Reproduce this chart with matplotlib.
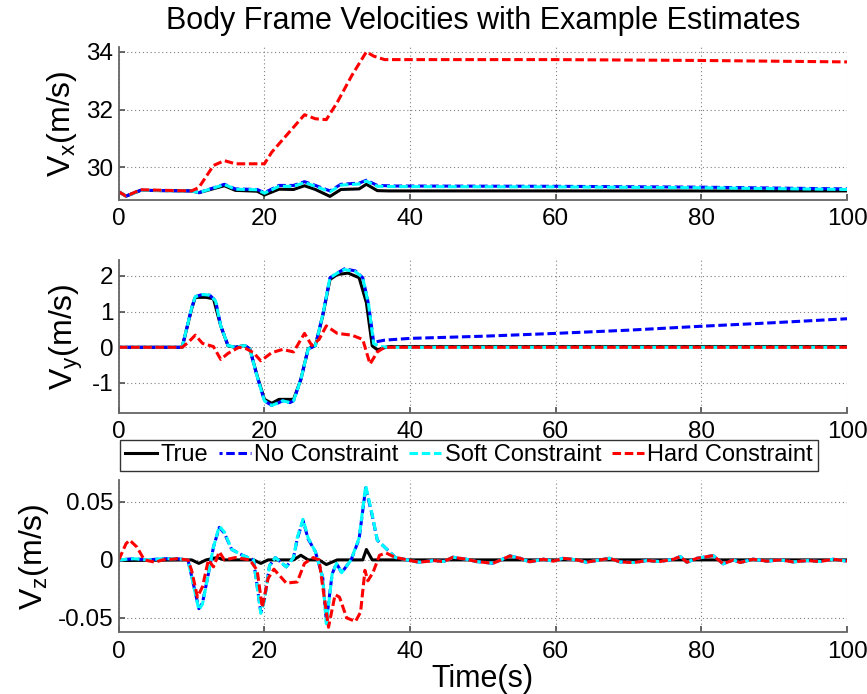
import matplotlib
matplotlib.use('Agg')
import matplotlib.pyplot as plt

plt.rcParams['font.family'] = ['Liberation Sans', 'DejaVu Sans']
plt.rcParams['mathtext.default'] = 'regular'

# ---- Vx ----
t_vx_true = [0, 1, 3, 10, 11, 14.5, 16, 19, 20, 22, 24, 25.5, 27, 29, 30.5, 33, 34, 35.5, 37, 100]
vx_true = [29.15, 29.0, 29.2, 29.18, 29.12, 29.36, 29.2, 29.17, 29.04, 29.24, 29.23, 29.36,
           29.23, 28.99, 29.23, 29.25, 29.41, 29.19, 29.18, 29.18]

t_vx_est = [0, 1, 3, 10, 11, 14.5, 16, 19, 20, 22, 24, 25.5, 27, 29, 30.5, 33, 34, 35.5, 38, 60, 80, 100]
vx_none = [29.15, 29.0, 29.2, 29.18, 29.12, 29.41, 29.25, 29.23, 29.12, 29.37, 29.37, 29.5,
           29.37, 29.18, 29.41, 29.45, 29.55, 29.37, 29.35, 29.34, 29.31, 29.25]
vx_soft = [29.15, 29.0, 29.2, 29.18, 29.12, 29.4, 29.24, 29.22, 29.1, 29.34, 29.34, 29.47,
           29.34, 29.15, 29.38, 29.42, 29.52, 29.34, 29.33, 29.32, 29.29, 29.23]

t_vx_hard = [0, 1, 3, 10, 11, 13, 14.5, 16, 20, 21, 23, 25.5, 27, 28.5, 30, 32, 34, 35, 36.5, 60, 80, 100]
vx_hard = [29.15, 29.0, 29.22, 29.18, 29.3, 30.06, 30.23, 30.12, 30.12, 30.52, 31.1, 31.82,
           31.68, 31.65, 32.25, 33.18, 34.0, 33.85, 33.73, 33.73, 33.7, 33.65]

# ---- Vy ----
t_vy_true = [0, 8.7, 10, 10.5, 12, 13, 14, 15, 16, 17.3, 18, 19, 20, 21, 22, 24, 25, 26, 27, 28,
             29, 30, 31.5, 33, 34, 34.8, 35.5, 37, 100]
vy_true = [0, 0, 1.07, 1.4, 1.4, 1.36, 0.6, 0.04, 0, 0.05, -0.05, -0.8, -1.46, -1.57, -1.46,
           -1.46, -0.9, -0.04, 0.05, 0.88, 1.9, 2.04, 2.08, 1.95, 1.25, 0.04, -0.07, 0.02, 0.02]

t_vy_soft = [0, 8.7, 10, 10.5, 11.5, 12.5, 13.3, 14, 15, 16, 17.3, 18, 19, 20, 21, 22, 22.5,
             23.5, 24, 25, 26, 27, 28, 29, 30, 31, 32.5, 33.5, 34.3, 35, 36, 37, 100]
vy_soft = [0, 0, 1.1, 1.42, 1.48, 1.46, 1.3, 0.6, 0.05, 0, 0.05, -0.05, -0.82, -1.5, -1.63,
           -1.55, -1.5, -1.55, -1.5, -0.9, -0.05, 0.05, 0.9, 1.95, 2.08, 2.18, 2.12, 1.95, 1.2,
           0.1, 0.02, 0, 0]

t_vy_none = [0, 8.7, 10, 10.5, 11.5, 12.5, 13.3, 14, 15, 16, 17.3, 18, 19, 20, 21, 22, 22.5,
             23.5, 24, 25, 26, 27, 28, 29, 30, 31, 32.5, 33.5, 34.3, 35, 36.5, 40, 50, 60, 70,
             80, 90, 100]
vy_none = [0, 0, 1.1, 1.42, 1.48, 1.46, 1.3, 0.6, 0.05, 0, 0.05, -0.05, -0.82, -1.5, -1.63,
           -1.55, -1.5, -1.55, -1.5, -0.9, -0.05, 0.05, 0.9, 1.95, 2.08, 2.2, 2.14, 1.95, 1.2,
           0.14, 0.2, 0.25, 0.31, 0.39, 0.48, 0.59, 0.69, 0.8]

t_vy_hard = [0, 8.7, 9.5, 10.5, 11.5, 13, 14, 15, 16.5, 17.5, 18.5, 19.5, 21, 22.5, 24, 25.5,
             26.5, 27.5, 28.5, 30, 32, 33.5, 34.5, 35.5, 36.5, 100]
vy_hard = [0, 0, 0.13, 0.34, 0.11, 0.02, -0.34, -0.17, 0, -0.04, -0.15, -0.38, -0.15, -0.06,
           -0.13, 0.39, 0.05, 0.22, 0.6, 0.39, 0.34, 0.22, -0.47, -0.13, 0, 0]

# ---- Vz ----
t_vz_true = [0, 1, 10, 11, 12, 13.5, 14.5, 18.5, 19.5, 20.5, 24, 25, 26, 27.5, 28.5, 30, 33.5,
             34, 34.8, 36, 100]
vz_true = [0, -0.0005, 0, -0.003, 0, 0.002, 0, 0, -0.003, 0, 0, 0.004, 0, 0, -0.004, 0, 0,
           0.009, 0, 0, 0]

# common small wiggle of the estimates after the manoeuvres
t_vz_tail = [38.6, 40, 41.3, 43.2, 44.6, 45.9, 47.7, 49.1, 51.4, 53.7, 55.1, 56.4, 58.3, 59.7,
             61, 62.9, 64.2, 66.1, 67.4, 68.8, 70.7, 72.5, 74.3, 76.2, 77.1, 78, 79.4, 81.6, 83,
             84.4, 85.3, 87.1, 89, 90.8, 92.6, 94.5, 96.3, 98.1, 100]
vz_tail = [0.0014, -0.0006, -0.002, -0.0006, -0.0014, 0.0023, 0.0006, -0.0014, -0.0029, 0.0034,
           0.0014, -0.0017, 0.0006, -0.0011, 0.0014, 0, -0.002, 0, 0.0014, -0.0017, -0.0023,
           -0.0006, -0.0014, 0.0006, 0.0029, -0.002, 0.0014, 0.0037, -0.0034, 0, -0.0023, 0.0006,
           -0.0011, 0, -0.0017, -0.0006, -0.0014, 0.0006, -0.0011]

t_vz_soft = [0, 2, 4, 6, 8, 9.5, 10.5, 11, 11.5, 12.3, 13, 13.8, 14.5, 15.5, 17, 18.5, 19.5, 20,
             20.7, 21.5, 23, 24, 24.5, 25.3, 26, 27, 28, 28.5, 29.3, 29.9, 30.6, 31.9, 33, 33.9,
             34.7, 35.5, 37, 38]
vz_soft = [0, 0.001, 0, 0.001, 0.001, 0, -0.029, -0.043, -0.038, -0.012, 0.011, 0.029, 0.024,
           0.009, 0.004, 0, -0.046, -0.035, -0.005, 0.002, -0.006, 0.002, 0.019, 0.035, 0.019,
           0.007, -0.015, -0.055, -0.012, -0.003, -0.011, 0, 0.019, 0.064, 0.042, 0.017, 0.008,
           0.002]
vz_none = [0, 0.001, 0, 0.001, 0.001, 0, -0.028, -0.042, -0.037, -0.012, 0.011, 0.028, 0.023,
           0.009, 0.004, 0, -0.045, -0.034, -0.005, 0.002, -0.006, 0.002, 0.018, 0.034, 0.018,
           0.007, -0.015, -0.053, -0.012, -0.003, -0.011, 0, 0.018, 0.062, 0.041, 0.017, 0.008,
           0.002]

t_vz_hard = [0, 1, 1.5, 2.5, 3.5, 5, 6, 8, 9.5, 10, 10.8, 11.5, 12.3, 13, 13.8, 14.5, 16, 18, 19,
             19.7, 20.5, 21.3, 23, 24.5, 25.5, 26.7, 27.5, 28, 28.8, 29.7, 30.3, 31.3, 32.5, 33.2,
             33.8, 34.2, 34.9, 35.8, 36.7, 38]
vz_hard = [0, 0.014, 0.017, 0.011, 0, -0.002, 0, 0.001, 0, -0.009, -0.032, -0.023, 0, -0.006,
           0.007, 0, 0.002, 0, -0.009, -0.041, -0.016, -0.008, -0.02, -0.019, -0.003, 0.002, 0,
           -0.023, -0.058, -0.03, -0.032, -0.05, -0.053, -0.045, -0.009, -0.018, -0.011, 0.004,
           0.006, 0.002]

labels = ['True', 'No Constraint', 'Soft Constraint', 'Hard Constraint']

fig = plt.figure(figsize=(8.67, 6.94), dpi=100)
rects = [[0.137, 0.712, 0.840, 0.220],
         [0.137, 0.405, 0.840, 0.220],
         [0.137, 0.089, 0.840, 0.219]]
axes = [fig.add_axes(r) for r in rects]

LW = 2.2
DASH = (2.8, 1.2)


def draw(ax, series):
    (tt, yt), (tn, yn), (ts, ys), (th, yh) = series
    ax.plot(tt, yt, color='black', lw=LW, label=labels[0])
    ax.plot(tn, yn, color='blue', lw=LW, ls=(1.8, DASH), label=labels[1])
    ax.plot(ts, ys, color='cyan', lw=LW, ls=(0, DASH), label=labels[2])
    ax.plot(th, yh, color='red', lw=LW, ls=(0, DASH), label=labels[3])


draw(axes[0], [(t_vx_true, vx_true), (t_vx_est, vx_none), (t_vx_est, vx_soft),
               (t_vx_hard, vx_hard)])
draw(axes[1], [(t_vy_true, vy_true), (t_vy_none, vy_none), (t_vy_soft, vy_soft),
               (t_vy_hard, vy_hard)])
draw(axes[2], [(t_vz_true, vz_true),
               (t_vz_soft + t_vz_tail, vz_none + vz_tail),
               (t_vz_soft + t_vz_tail, vz_soft + vz_tail),
               (t_vz_hard + t_vz_tail, vz_hard + vz_tail)])

ylims = [(28.87, 34.16), (-1.84, 2.44), (-0.0623, 0.0686)]
yticks = [[30, 32, 34], [-1, 0, 1, 2], [-0.05, 0, 0.05]]
yticklabels = [['30', '32', '34'], ['-1', '0', '1', '2'], ['-0.05', '0', '0.05']]
ylabels = ['V$_x$(m/s)', 'V$_y$(m/s)', 'V$_z$(m/s)']

for ax, yl, yt, ytl, lab in zip(axes, ylims, yticks, yticklabels, ylabels):
    ax.set_xlim(0, 100)
    ax.set_ylim(*yl)
    ax.set_xticks([0, 20, 40, 60, 80, 100])
    ax.set_yticks(yt)
    ax.set_yticklabels(ytl)
    ax.grid(True, color='0.5', ls=(0, (1, 2.5)), lw=0.8)
    ax.set_axisbelow(True)
    for s in ['top', 'right']:
        ax.spines[s].set_visible(False)
    for s in ['left', 'bottom']:
        ax.spines[s].set_color('0.4')
        ax.spines[s].set_linewidth(1.3)
    ax.tick_params(direction='in', length=4, width=1.2, color='0.3', labelsize=17.5, pad=4)
    ax.tick_params(axis='x', pad=6)
    ax.set_ylabel(lab, fontsize=23, labelpad=5)

axes[0].set_title('Body Frame Velocities with Example Estimates', fontsize=22, pad=13)
axes[2].set_xlabel('Time(s)', fontsize=22, labelpad=1)

handles, labs = axes[2].get_legend_handles_labels()
fig.legend(handles, labs, loc='center', bbox_to_anchor=(0.541, 0.344), ncol=4, fontsize=17,
           frameon=True, fancybox=False, edgecolor='0.2', framealpha=1, handlelength=1.35,
           handletextpad=0.15, columnspacing=0.45, borderpad=0.2, borderaxespad=0)

fig.savefig('out.png', dpi=100)
